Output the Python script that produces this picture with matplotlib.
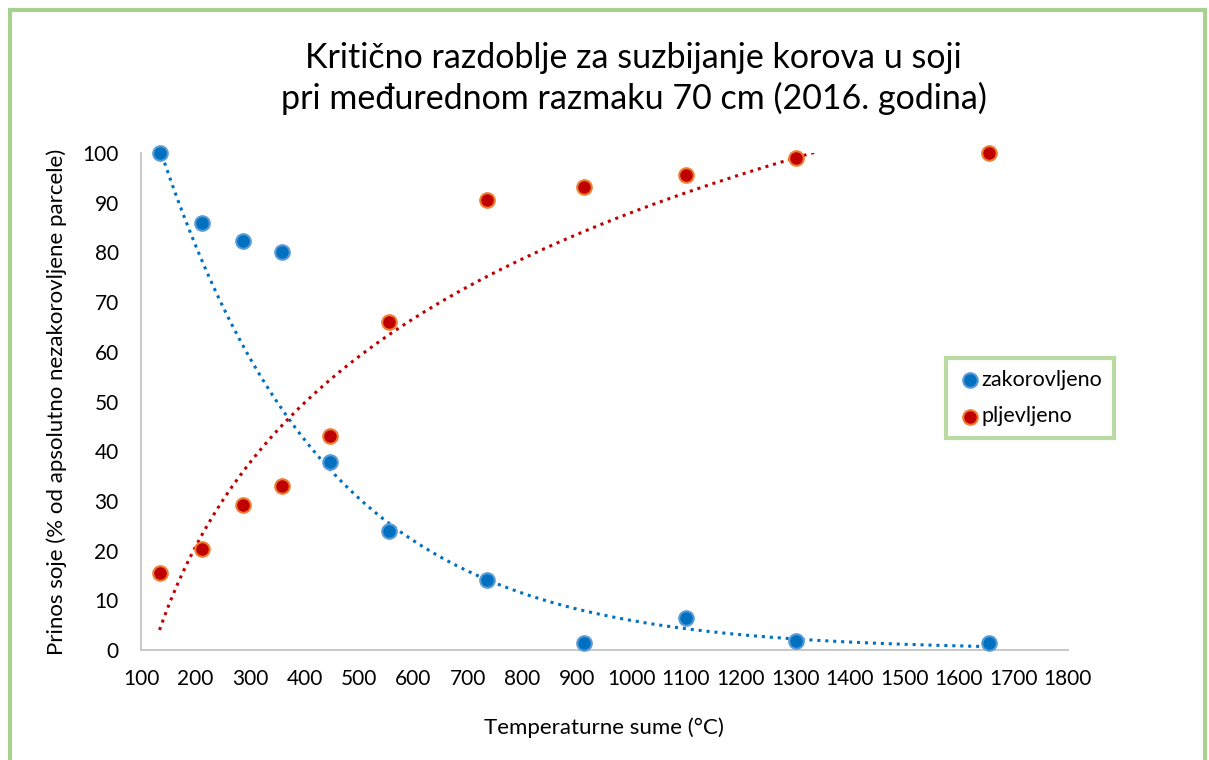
import numpy as np
import matplotlib
matplotlib.use('Agg')
import matplotlib.pyplot as plt
from matplotlib.patches import Rectangle

plt.rcParams['font.family'] = ['Lato', 'DejaVu Sans']

# temperature sums (°C) and yields (%)
temp_sums = [134, 212, 287, 358, 446, 555, 735, 912, 1100, 1301, 1655]
weedy = [100, 86, 82.2, 80.1, 37.8, 24, 14, 1.4, 6.4, 1.8, 1.4]
weeded = [15.5, 20.3, 29.2, 33, 43, 66, 90.6, 93.2, 95.6, 99, 100]

x_ticks = list(range(100, 1900, 100))
y_ticks = list(range(0, 110, 10))

fig = plt.figure(figsize=(12.09, 7.6), dpi=100)
ax = fig.add_axes([0.1166, 0.1447, 0.7664, 0.654])

x = np.array(temp_sums, dtype=float)
yb = np.array(weedy)
yr = np.array(weeded)

# trend lines (exponential for weedy, logarithmic for weeded) like Excel
b, ln_a = np.polyfit(x, np.log(yb), 1)
xs = np.linspace(x.min(), x.max(), 400)
ax.plot(xs, np.exp(ln_a) * np.exp(b * xs), color='#0070C0', lw=2.2,
        linestyle=(0, (1, 1.6)), zorder=2)
k, c = np.polyfit(np.log(x), yr, 1)
yl = k * np.log(xs) + c
ax.plot(xs[yl <= 100.5], yl[yl <= 100.5], color='#C00000', lw=2.2,
        linestyle=(0, (1, 1.6)), zorder=2)

ax.scatter(x, yb, s=110, color='#0070C0', edgecolors='#5B9BD5', linewidths=1.5,
           zorder=3, label='zakorovljeno', clip_on=False)
ax.scatter(x, yr, s=110, color='#C00000', edgecolors='#ED7D31', linewidths=1.5,
           zorder=3, label='pljevljeno', clip_on=False)

ax.set_xlim(100, 1800)
ax.set_ylim(0, 100)
ax.set_xticks(x_ticks)
ax.set_yticks(y_ticks)
ax.tick_params(length=0, labelsize=15)
ax.tick_params(axis='x', pad=14)
ax.tick_params(axis='y', pad=16)
for s in ['top', 'right']:
    ax.spines[s].set_visible(False)
for s in ['left', 'bottom']:
    ax.spines[s].set_color('#BFBFBF')
    ax.spines[s].set_linewidth(1.2)

ax.set_xlabel('Temperaturne sume (°C)', fontsize=16, labelpad=20)
ax.set_ylabel('Prinos soje (% od apsolutno nezakorovljene parcele)', fontsize=16, labelpad=11)

fig.text(0.524, 0.897, 'Kritično razdoblje za suzbijanje korova u soji\npri međurednom razmaku 70 cm (2016. godina)',
         ha='center', va='center', fontsize=24.5, linespacing=1.3)

leg = ax.legend(loc='upper left', bbox_to_anchor=(0.869, 0.587), frameon=True,
                fontsize=15.5, handletextpad=0.0, borderpad=0.55, labelspacing=0.75,
                handlelength=1.1, borderaxespad=0, fancybox=False)
leg.get_frame().set_edgecolor('#A9D18E')
leg.get_frame().set_linewidth(3)

# green chart frame
fig.patches.append(Rectangle((10 / 1209, -0.05), 1195 / 1209, 1.05 - 10 / 760,
                             transform=fig.transFigure, fill=False,
                             edgecolor='#A9D18E', linewidth=3))

fig.savefig('out.png', dpi=100)
